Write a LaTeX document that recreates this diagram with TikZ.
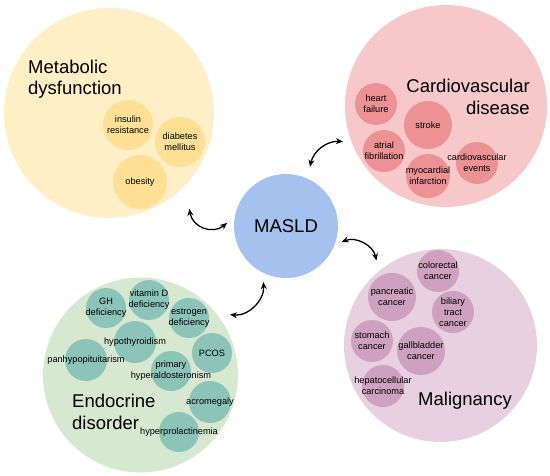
\documentclass[tikz,border=0pt]{standalone}
\usepackage{fontspec}
\setmainfont{Liberation Sans}
\usetikzlibrary{calc,arrows.meta,positioning}
\definecolor{cMeta}{RGB}{255,239,198}
\definecolor{cMetaIn}{RGB}{253,224,150}
\definecolor{cCard}{RGB}{246,200,202}
\definecolor{cCardIn}{RGB}{236,146,148}
\definecolor{cMasld}{RGB}{165,194,238}
\definecolor{cEndo}{RGB}{214,232,208}
\definecolor{cEndoIn}{RGB}{141,196,186}
\definecolor{cMal}{RGB}{231,208,223}
\definecolor{cMalIn}{RGB}{207,161,192}

\begin{document}
\begin{tikzpicture}[x=1pt,y=-1pt,
  grp/.style={circle,inner sep=0pt,minimum size=#1},
  lbl/.style={align=center,font=\fontsize{9.2}{11}\selectfont,inner sep=0pt},
  ttl/.style={font=\fontsize{18.5}{21.5}\selectfont,inner sep=0pt},
  link/.style={{Stealth[length=7pt,width=6pt]}-{Stealth[length=7pt,width=6pt]},line width=1.3pt}]
  \useasboundingbox (0,0) rectangle (550,475);

  % groups
  \node[grp=210pt,fill=cMeta] (meta) at (109,113) {};
  \node[grp=202pt,fill=cCard] (card) at (446,106) {};
  \node[grp=104pt,fill=cMasld] (masld) at (286,226) {};
  \node[grp=195pt,fill=cEndo] (endo) at (140.5,375) {};
  \node[grp=193pt,fill=cMal] (mal) at (440.5,345.5) {};

  % metabolic dysfunction
  \node[ttl,anchor=west,align=left] (metaT) at (28,79) {Metabolic\\dysfunction};
  \node[grp=50pt,fill=cMetaIn,label={[lbl]center:insulin\\resistance}] (ins) at (128,125) {};
  \node[grp=50pt,fill=cMetaIn,label={[lbl]center:diabetes\\mellitus}] (dm) at (180,142) {};
  \node[grp=54pt,fill=cMetaIn,label={[lbl]center:obesity}] (obes) at (140,182) {};

  % cardiovascular disease
  \node[ttl,anchor=east,align=right] (cardT) at (530,97) {Cardiovascular\\disease};
  \node[grp=42pt,fill=cCardIn,label={[lbl]center:heart\\failure}] (hf) at (376,104) {};
  \node[grp=48pt,fill=cCardIn,label={[lbl]center:stroke}] (stroke) at (428,125) {};
  \node[grp=42pt,fill=cCardIn,label={[lbl]center:atrial\\fibrillation}] (af) at (384,151) {};
  \node[grp=44pt,fill=cCardIn,label={[lbl]center:myocardial\\infarction}] (mi) at (428,176) {};
  \node[grp=42pt,fill=cCardIn,label={[lbl]center:cardiovascular\\events}] (cve) at (477,163) {};

  % MASLD
  \node[ttl] (masldT) at (masld) {MASLD};

  % endocrine disorder
  \node[ttl,anchor=west,align=left] (endoT) at (72,412) {Endocrine\\disorder};
  \node[grp=40pt,fill=cEndoIn,label={[lbl]center:GH\\deficiency}] (gh) at (106,308) {};
  \node[grp=40pt,fill=cEndoIn,label={[lbl]center:vitamin D\\deficiency}] (vitd) at (149,300) {};
  \node[grp=40pt,fill=cEndoIn,label={[lbl]center:estrogen\\deficiency}] (estr) at (189,318) {};
  \node[grp=42pt,fill=cEndoIn,label={[lbl]center:hypothyroidism}] (hypo) at (135,342) {};
  \node[grp=42pt,fill=cEndoIn,label={[lbl]center:panhypopituitarism}] (panh) at (86,360) {};
  \node[grp=40pt,fill=cEndoIn,label={[lbl]center:PCOS}] (pcos) at (212,353) {};
  \node[grp=40pt,fill=cEndoIn,label={[lbl]center:primary\\hyperaldosteronism}] (phyp) at (171,371) {};
  \node[grp=42pt,fill=cEndoIn,label={[lbl]center:acromegaly}] (acro) at (210,402) {};
  \node[grp=40pt,fill=cEndoIn,label={[lbl]center:hyperprolactinemia}] (hprl) at (179,432) {};

  % malignancy
  \node[ttl,anchor=base] (malT) at (465,405) {Malignancy};
  \node[grp=42pt,fill=cMalIn,label={[lbl]center:colorectal\\cancer}] (crc) at (438,271) {};
  \node[grp=48pt,fill=cMalIn,label={[lbl]center:pancreatic\\cancer}] (panc) at (392,297) {};
  \node[grp=42pt,fill=cMalIn,label={[lbl]center:biliary\\tract\\cancer}] (btc) at (453,312) {};
  \node[grp=42pt,fill=cMalIn,label={[lbl]center:stomach\\cancer}] (stom) at (372,341) {};
  \node[grp=48pt,fill=cMalIn,label={[lbl]center:gallbladder\\cancer}] (gbc) at (421,351) {};
  \node[grp=42pt,fill=cMalIn,label={[lbl]center:hepatocellular\\carcinoma}] (hcc) at (383,386) {};

  % links to MASLD
  \draw[link] ($(meta)!125pt!(meta.-50)$) to[bend right=60,looseness=1.2] ($(masld)!59pt!(masld.177)$);
  \draw[link] ($(masld)!64pt!(masld.68)$) to[bend left=40] ($(card)!109pt!(card.199)$);
  \draw[link] ($(masld)!58pt!(masld.-16)$) to[bend left=50] ($(mal)!106.5pt!(mal.127)$);
  \draw[link] ($(endo)!108pt!(endo.34)$) to[bend right=50] ($(masld)!60.5pt!(masld.248)$);
\end{tikzpicture}
\end{document}
